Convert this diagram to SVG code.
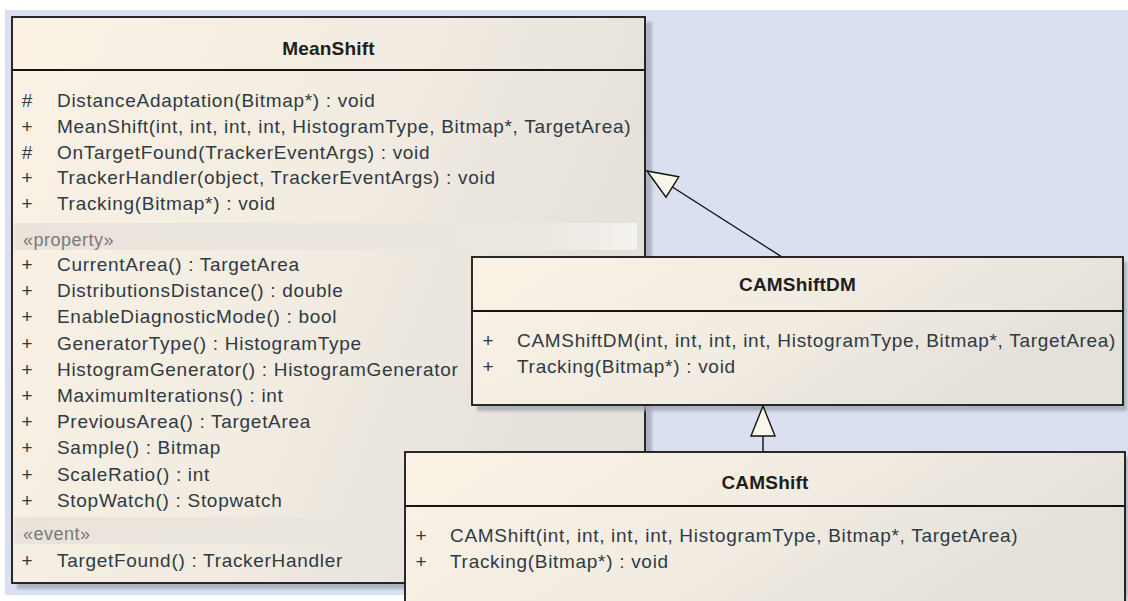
<svg xmlns="http://www.w3.org/2000/svg" width="1128" height="601" viewBox="0 0 1128 601">
<style>
.t{font-family:"Liberation Sans",Arial,sans-serif;font-size:19px;fill:#2f3a42;letter-spacing:0.7px}
.v{font-family:"Liberation Sans",Arial,sans-serif;font-size:19px;fill:#2f3a42;text-anchor:middle}
.s{font-family:"Liberation Sans",Arial,sans-serif;font-size:18px;fill:#7a7a7a;letter-spacing:0.5px}
.h{font-family:"Liberation Sans",Arial,sans-serif;font-size:19px;font-weight:bold;fill:#1e1e1e;text-anchor:middle;letter-spacing:0.2px}
.box{fill:url(#fill);stroke:#141414;stroke-width:1.8}
.sep{stroke:#141414;stroke-width:1.8}
.shadow{fill:#9ea4b0;opacity:0.75;filter:url(#blur)}
.band{fill:url(#band)}
.conn{fill:none;stroke:#111;stroke-width:1.4}
.head{fill:#fbf6ec;stroke:#111;stroke-width:1.4;stroke-linejoin:miter}
</style>
<defs>
<linearGradient id="fill" x1="0" y1="0" x2="1" y2="0.35">
<stop offset="0" stop-color="#fbf2e5"/>
<stop offset="0.6" stop-color="#f1ebe1"/>
<stop offset="1" stop-color="#e4e0da"/>
</linearGradient>
<linearGradient id="band" x1="0" y1="0" x2="1" y2="0">
<stop offset="0" stop-color="#e9e3da"/>
<stop offset="0.85" stop-color="#ece8e2"/>
<stop offset="1" stop-color="#f4f2ee"/>
</linearGradient>
<filter id="blur" x="-5%" y="-5%" width="110%" height="110%"><feGaussianBlur stdDeviation="1.5"/></filter>
</defs>
<rect x="0" y="0" width="1128" height="601" fill="#ffffff"/>
<rect x="5" y="10" width="1123" height="585" fill="#dae0f0"/>

<g id="MeanShift">
<rect class="shadow" x="17" y="22" width="635" height="567"/>
<rect class="box" x="12" y="17" width="633" height="566"/>
<line class="sep" x1="12" y1="70" x2="645" y2="70"/>
<text class="h" x="328.5" y="55">MeanShift</text>
<text class="v" x="27" y="107">#</text><text class="t" x="57" y="107">DistanceAdaptation(Bitmap*) : void</text>
<text class="v" x="27" y="132.8">+</text><text class="t" x="57" y="132.8">MeanShift(int, int, int, int, HistogramType, Bitmap*, TargetArea)</text>
<text class="v" x="27" y="158.5">#</text><text class="t" x="57" y="158.5">OnTargetFound(TrackerEventArgs) : void</text>
<text class="v" x="27" y="184.3">+</text><text class="t" x="57" y="184.3">TrackerHandler(object, TrackerEventArgs) : void</text>
<text class="v" x="27" y="210">+</text><text class="t" x="57" y="210">Tracking(Bitmap*) : void</text>
<rect class="band" x="14" y="223" width="623" height="27"/>
<text class="s" x="23" y="246">«property»</text>
<text class="v" x="27" y="271">+</text><text class="t" x="57" y="271">CurrentArea() : TargetArea</text>
<text class="v" x="27" y="297.2">+</text><text class="t" x="57" y="297.2">DistributionsDistance() : double</text>
<text class="v" x="27" y="323.4">+</text><text class="t" x="57" y="323.4">EnableDiagnosticMode() : bool</text>
<text class="v" x="27" y="349.6">+</text><text class="t" x="57" y="349.6">GeneratorType() : HistogramType</text>
<text class="v" x="27" y="375.8">+</text><text class="t" x="57" y="375.8">HistogramGenerator() : HistogramGenerator</text>
<text class="v" x="27" y="402">+</text><text class="t" x="57" y="402">MaximumIterations() : int</text>
<text class="v" x="27" y="428.2">+</text><text class="t" x="57" y="428.2">PreviousArea() : TargetArea</text>
<text class="v" x="27" y="454.4">+</text><text class="t" x="57" y="454.4">Sample() : Bitmap</text>
<text class="v" x="27" y="480.6">+</text><text class="t" x="57" y="480.6">ScaleRatio() : int</text>
<text class="v" x="27" y="506.8">+</text><text class="t" x="57" y="506.8">StopWatch() : Stopwatch</text>
<rect class="band" x="14" y="517" width="623" height="27"/>
<text class="s" x="23" y="540">«event»</text>
<text class="v" x="27" y="567">+</text><text class="t" x="57" y="567">TargetFound() : TrackerHandler</text>
</g>

<g id="CAMShiftDM">
<rect class="shadow" x="477" y="262" width="650" height="149"/>
<rect class="box" x="472" y="257" width="651" height="148"/>
<line class="sep" x1="472" y1="311" x2="1123" y2="311"/>
<text class="h" x="797.5" y="291">CAMShiftDM</text>
<text class="v" x="488" y="347">+</text><text class="t" x="517" y="347">CAMShiftDM(int, int, int, int, HistogramType, Bitmap*, TargetArea)</text>
<text class="v" x="488" y="373">+</text><text class="t" x="517" y="373">Tracking(Bitmap*) : void</text>
</g>

<g id="CAMShift">
<rect class="shadow" x="410" y="457" width="718" height="150"/>
<rect class="box" x="405" y="452" width="720" height="160"/>
<line class="sep" x1="405" y1="506" x2="1125" y2="506"/>
<text class="h" x="765" y="489">CAMShift</text>
<text class="v" x="421" y="542">+</text><text class="t" x="450" y="542">CAMShift(int, int, int, int, HistogramType, Bitmap*, TargetArea)</text>
<text class="v" x="421" y="568">+</text><text class="t" x="450" y="568">Tracking(Bitmap*) : void</text>
</g>

<g id="connectors">
<line class="conn" x1="782" y1="257" x2="672.4" y2="187"/>
<polygon class="head" points="647,171 678.8,176.8 666,197.2"/>
<line class="conn" x1="763" y1="452" x2="763" y2="436"/>
<polygon class="head" points="763,406 775,436 751,436"/>
</g>
</svg>
